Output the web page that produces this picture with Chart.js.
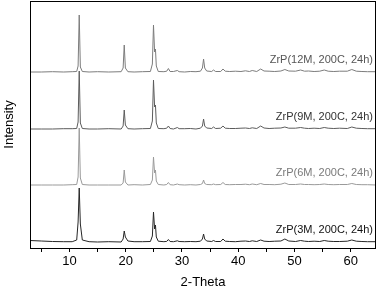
<!DOCTYPE html>
<html>
<head>
<meta charset="utf-8">
<script src="https://cdn.jsdelivr.net/npm/chart.js@4"></script>
<style>
  html, body { margin: 0; padding: 0; background: #fff; }
  #wrap { width: 380px; height: 290px; }
</style>
</head>
<body>
<div id="wrap"><canvas id="xrd"></canvas></div>
<script>
// 2-theta positions (degrees)
const twoTheta = [3, 5, 7, 9, 10.5, 11.3, 11.55, 11.75, 11.95, 12.3,
  13.5, 15, 17, 19.2, 19.55, 19.75, 19.95, 20.4, 21.5, 23,
  24.4, 24.75, 24.95, 25.15, 25.3, 25.45, 25.8, 26.8, 27.3, 27.6,
  27.9, 28.5, 29.2, 29.5, 30.5, 31.5, 32.5, 33.3, 33.65, 33.85,
  34.05, 34.4, 35.3, 35.6, 36.0, 36.9, 37.3, 37.7, 38.5, 39.5,
  40.5, 41.3, 42.0, 42.5, 43.3, 44.0, 44.6, 45.5, 46.5, 47.6,
  48.3, 49.0, 50.2, 51.1, 51.8, 52.5, 53.5, 54.5, 55.3, 56.0,
  57, 58, 59.4, 60.2, 61.0, 62.0, 63.0, 64.5];

// intensities (a.u.) above each pattern's own baseline
const zrp3M = [1.5, 1, 0.5, 0.3, 0.3, 2, 20, 54, 18, 2,
  0.3, 0, 0.3, 0, 3, 11, 5, 1, 0.3, 0.3,
  0.5, 6, 30, 13, 17, 5, 0.8, 0.3, 0.6, 2.5,
  0.5, 0.3, 1.2, 0.5, 0.3, 0.5, 0.3, 0.8, 3, 8,
  3, 1, 0.5, 1.5, 0.5, 0.5, 3, 0.8, 0.5, 0.3,
  0.8, 1, 0.5, 1.2, 0.5, 2, 0.8, 0.5, 0.8, 1,
  3, 1, 0.5, 1.5, 0.8, 0.5, 0.8, 0.5, 1.5, 0.8,
  0.5, 0.5, 0.8, 2, 0.8, 0.5, 0.3, 0.3];
const zrp6M = [0, 0, 0, 0, 0.3, 0.5, 8, 57, 7, 0.5,
  0, 0, 0, 0, 2, 15, 3, 0, 0.3, 0,
  0.5, 5, 28, 12, 15, 4, 0.5, 0, 0.5, 2.5,
  0.3, 0, 1, 0.3, 0, 0.3, 0, 0.5, 1.5, 5,
  1.5, 0.5, 0.3, 1, 0.3, 0.5, 2.5, 0.5, 0.3, 0.5,
  0.5, 0.8, 0.3, 1, 0.3, 1.5, 0.5, 0.5, 0.3, 0.8,
  2, 0.5, 0.5, 1, 0.5, 0.5, 0.3, 0.5, 1, 0.5,
  0.3, 0.5, 0.5, 1.5, 0.5, 0.3, 0.3, 0];
const zrp9M = [0, 0, 0, 0.3, 0.3, 0.5, 7, 58, 6, 0.5,
  0, 0, 0.3, 0, 3, 19, 4, 0.3, 0, 0.3,
  0.5, 8, 49, 22, 24, 6, 0.5, 0.3, 0.8, 3,
  0.5, 0, 1.5, 0.3, 0.3, 0.5, 0, 0.8, 3, 10,
  3, 1, 0.5, 2, 0.5, 0.8, 3, 0.8, 0.5, 0.5,
  0.8, 1, 0.5, 1.2, 0.5, 3, 1, 0.5, 0.8, 1,
  2, 0.8, 0.8, 1.5, 0.8, 0.5, 0.8, 0.5, 1.5, 0.8,
  0.5, 0.8, 0.5, 2, 0.8, 0.5, 0.3, 0.3];
const zrp12M = [0, 0, 0.3, 0, 0.3, 0.5, 6, 57, 5, 0.5,
  0, 0.3, 0, 0.3, 4, 27, 4, 0.3, 0, 0.3,
  0.5, 8, 47, 20, 23, 6, 0.5, 0.3, 0.8, 3.5,
  0.5, 0.5, 1.5, 0.3, 0, 0.5, 0.3, 0.8, 4, 13,
  4, 1, 0.5, 2, 0.5, 0.5, 3, 0.8, 0.5, 0.8,
  0.5, 1.2, 0.5, 1.5, 0.5, 3, 1, 0.8, 0.5, 1,
  2.5, 1, 0.8, 2, 0.8, 1, 0.5, 0.8, 2, 0.8,
  0.5, 0.8, 0.8, 2.5, 0.8, 0.5, 0.3, 0.3];

// x tick positions (labels only on multiples of 10)
const xTicks = [5, 10, 15, 20, 25, 30, 35, 40, 45, 50, 55, 60];

// vertical stacking offset of each pattern
const offsets = [6, 63, 119, 176];
const seriesNames = ['ZrP(3M, 200C, 24h)', 'ZrP(6M, 200C, 24h)', 'ZrP(9M, 200C, 24h)', 'ZrP(12M, 200C, 24h)'];
const seriesValues = [zrp3M, zrp6M, zrp9M, zrp12M];
const lineColors = ['#262626', '#9a9a9a', '#5c5c5c', '#7c7c7c'];
const textColors = ['#111111', '#7a7a7a', '#333333', '#555555'];

const fontFam = '"Liberation Sans", Arial, sans-serif';

const datasets = seriesValues.map((vals, i) => ({
  label: seriesNames[i],
  data: vals.map((v, k) => ({ x: twoTheta[k], y: v + offsets[i] })),
  borderColor: lineColors[i],
  borderWidth: 1,
  pointRadius: 0,
  tension: 0,
  fill: false
}));

// frame around plot + sample names
const framePlugin = {
  id: 'frame',
  afterDraw(chart) {
    const { ctx, chartArea: a, scales } = chart;
    ctx.save();
    ctx.strokeStyle = '#000';
    ctx.lineWidth = 1;
    ctx.strokeRect(a.left + 0.5, a.top + 0.5, a.right - a.left - 1, a.bottom - a.top);
    ctx.font = '11px ' + fontFam;
    ctx.textAlign = 'right';
    ctx.textBaseline = 'middle';
    seriesNames.forEach((name, i) => {
      ctx.fillStyle = textColors[i];
      ctx.fillText(name, a.right - 3, scales.y.getPixelForValue(offsets[i]) - 12);
    });
    ctx.restore();
  }
};

new Chart(document.getElementById('xrd'), {
  type: 'line',
  data: { datasets },
  options: {
    responsive: true,
    maintainAspectRatio: false,
    animation: false,
    layout: { padding: { top: 1, right: 4, left: 0, bottom: 0 } },
    plugins: { legend: { display: false }, tooltip: { enabled: false } },
    scales: {
      x: {
        type: 'linear',
        min: 3,
        max: 64.5,
        afterBuildTicks: s => { s.ticks = xTicks.map(v => ({ value: v })); },
        afterFit: s => { s.height = 42; },
        border: { display: false },
        grid: { drawOnChartArea: false, drawTicks: true, tickLength: 4, color: '#000' },
        ticks: {
          autoSkip: false,
          maxRotation: 0,
          padding: 2,
          color: '#000',
          font: { family: fontFam, size: 13 },
          callback: v => (v % 10 === 0 ? v : '')
        },
        title: { display: true, text: '2-Theta', color: '#000', padding: { top: 0, bottom: 0 }, font: { family: fontFam, size: 13 } }
      },
      y: {
        min: 0,
        max: 247,
        afterFit: s => { s.width = 30; },
        border: { display: false },
        grid: { display: false },
        ticks: { display: false },
        title: { display: true, text: 'Intensity', color: '#000', padding: { top: 2, bottom: 0 }, font: { family: fontFam, size: 13 } }
      }
    }
  },
  plugins: [framePlugin]
});
</script>
</body>
</html>
